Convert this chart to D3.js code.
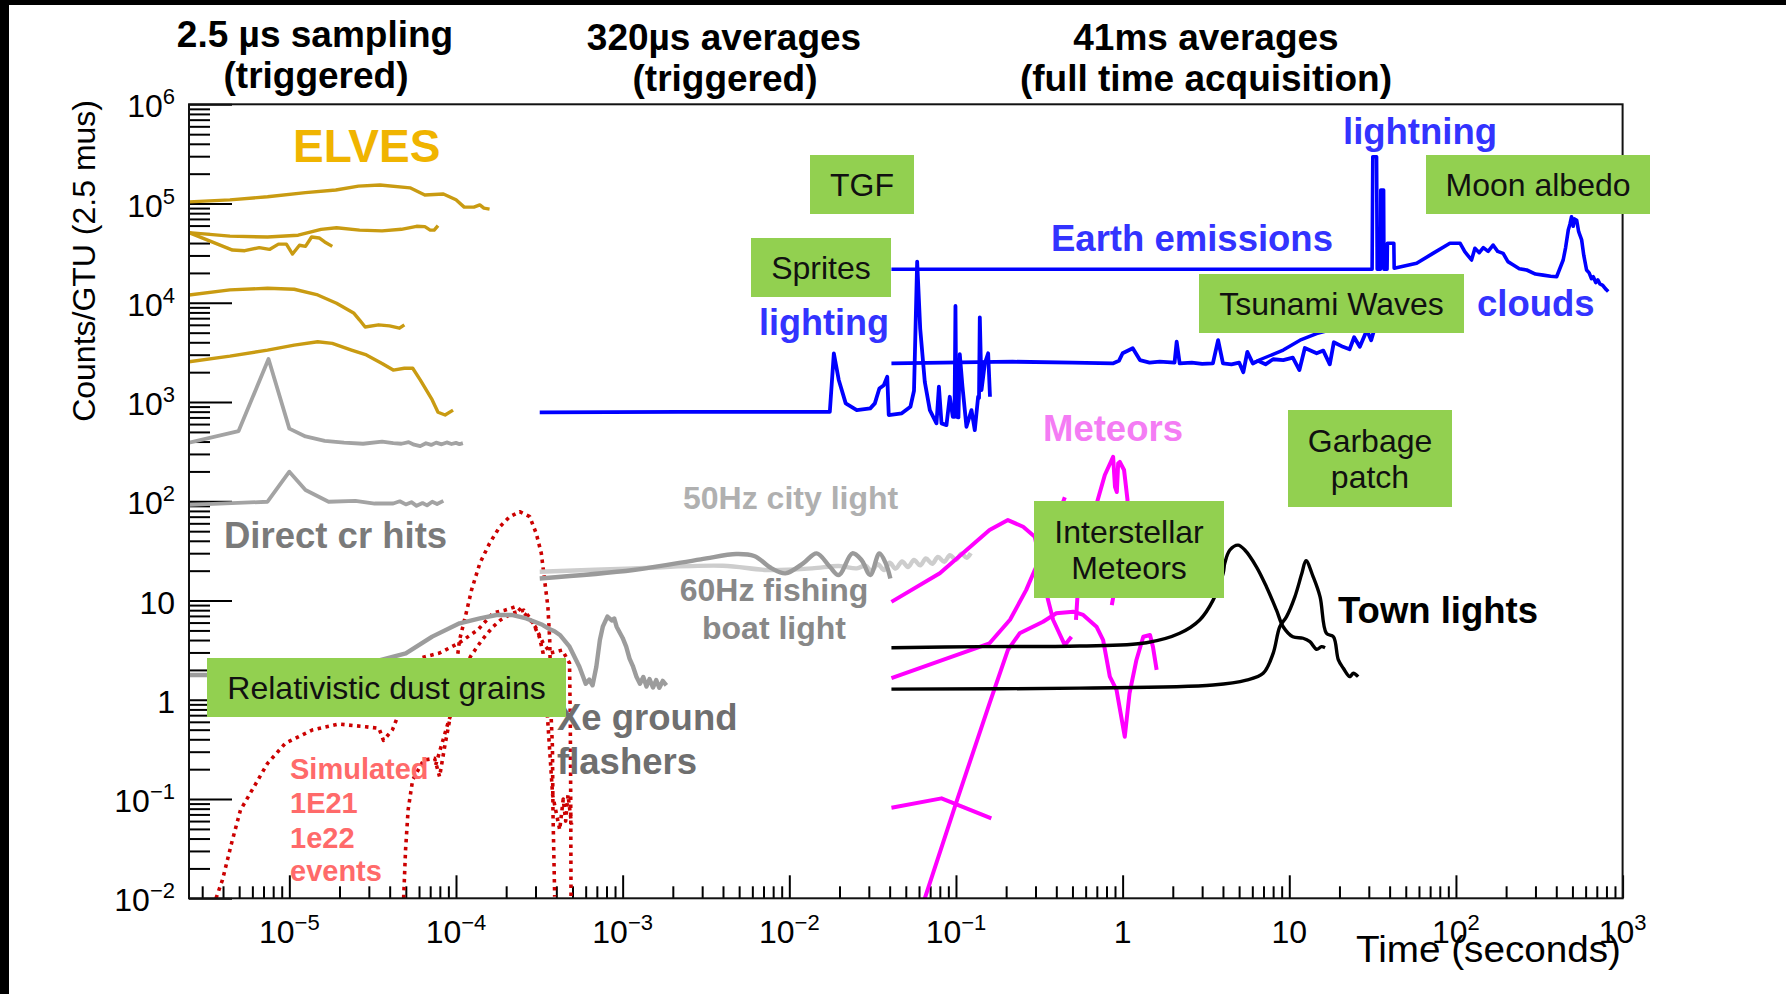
<!DOCTYPE html>
<html>
<head>
<meta charset="utf-8">
<script src="https://cdn.jsdelivr.net/npm/d3@7"></script>
<style>
  body { margin: 0; background: #fff; }
  svg { display: block; }
  text { font-family: "Liberation Sans", Arial, Helvetica, sans-serif; }
</style>
</head>
<body>
<svg id="chart" width="1786" height="994"></svg>
<script>
// ---------- data: [time (s), counts per GTU] ----------
const elves1 = [[2.5e-6,1.04e5],[4.4e-6,1.09e5],[7.4e-6,1.17e5],[1.25e-5,1.29e5],[1.9e-5,1.37e5],[2.6e-5,1.5e5],[3.5e-5,1.54e5],[5.3e-5,1.44e5],[6.5e-5,1.22e5],[8.4e-5,1.25e5],[1.0e-4,1.09e5],[1.12e-4,9.2e4],[1.28e-4,9.2e4],[1.39e-4,9.7e4],[1.47e-4,9.0e4],[1.59e-4,8.8e4]];
const elves2 = [[2.5e-6,5.1e4],[4.4e-6,4.7e4],[7.4e-6,4.6e4],[1.13e-5,4.8e4],[1.55e-5,5.5e4],[1.92e-5,5.7e4],[2.64e-5,5.4e4],[3.6e-5,5.3e4],[4.7e-5,5.5e4],[5.8e-5,5.9e4],[6.5e-5,5.85e4],[7.0e-5,5.4e4],[7.4e-5,5.4e4],[7.8e-5,6.0e4]];
const elves3 = [[2.5e-6,5.1e4],[4.56e-6,3.4e4],[5.4e-6,3.35e4],[6.6e-6,3.6e4],[7.6e-6,3.45e4],[8.6e-6,3.9e4],[9.6e-6,3.9e4],[1.045e-5,3.1e4],[1.15e-5,3.8e4],[1.25e-5,3.7e4],[1.36e-5,4.6e4],[1.51e-5,4.5e4],[1.63e-5,4.1e4],[1.81e-5,3.7e4]];
const elves4 = [[2.5e-6,1.2e4],[4.4e-6,1.35e4],[7.4e-6,1.4e4],[1.07e-5,1.37e4],[1.48e-5,1.2e4],[1.92e-5,9.9e3],[2.43e-5,7.9e3],[2.64e-5,6.7e3],[2.85e-5,5.7e3],[3.43e-5,6.0e3],[3.99e-5,5.85e3],[4.58e-5,5.55e3],[4.9e-5,6.0e3]];
const elves5 = [[2.5e-6,2.55e3],[4.4e-6,2.9e3],[7.4e-6,3.34e3],[1.07e-5,3.75e3],[1.48e-5,4.05e3],[1.81e-5,3.9e3],[2.36e-5,3.34e3],[2.9e-5,2.98e3],[3.6e-5,2.45e3],[4.2e-5,2.1e3],[4.9e-5,2.19e3],[5.5e-5,2.19e3],[6.1e-5,1.67e3],[7.2e-5,1.05e3],[7.8e-5,790],[8.6e-5,740],[9.6e-5,830]];

const crHitsHigh = [[2.5e-6,390],[4.96e-6,510],[7.5e-6,2.72e3],[1.0e-5,540],[1.25e-5,450],[1.63e-5,407],[2.13e-5,390],[2.77e-5,380],[3.6e-5,400],[4.2e-5,385],[4.7e-5,380],[5.2e-5,395],[5.6e-5,372],[6.1e-5,360],[6.6e-5,385],[7.1e-5,370],[7.6e-5,390],[8.2e-5,375],[8.8e-5,392],[9.4e-5,378],[1.0e-4,388],[1.05e-4,376],[1.1e-4,385]];
const crHitsLow = [[2.5e-6,92],[7.4e-6,99],[1.0e-5,199],[1.25e-5,130],[1.72e-5,99],[2.49e-5,101],[3.25e-5,95],[4.2e-5,95],[4.6e-5,100],[5.0e-5,93],[5.4e-5,98],[5.8e-5,90],[6.3e-5,96],[6.7e-5,91],[7.2e-5,99],[7.7e-5,94],[8.4e-5,101]];

const xeFlashers = [[2.5e-6,1.78],[3.2e-6,1.78],[2.3e-5,2.09],[5.0e-5,2.94],[7.2e-5,4.33],[1.05e-4,5.9],[1.39e-4,6.6],[1.75e-4,7.15],[2.19e-4,7.15],[2.64e-4,6.6],[3.3e-4,5.7],[3.6e-4,5.2],[3.9e-4,4.9],[4.2e-4,4.5],[4.8e-4,3.43],[5.5e-4,2.15],[5.8e-4,1.7],[6.0e-4,1.45],[6.3e-4,1.6],[6.6e-4,1.4],[6.95e-4,2.15],[7.3e-4,4.0],[7.6e-4,5.45],[8.1e-4,6.9],[8.6e-4,6.3],[8.9e-4,6.6],[9.2e-4,5.45],[1.0e-3,4.2],[1.05e-3,3.43],[1.1e-3,2.6],[1.15e-3,2.2],[1.21e-3,1.71],[1.27e-3,1.45],[1.33e-3,1.7],[1.39e-3,1.36],[1.45e-3,1.62],[1.52e-3,1.33],[1.59e-3,1.58],[1.66e-3,1.32],[1.74e-3,1.55],[1.83e-3,1.4]];

const simWide = [[3.63e-6,0.01],[3.97e-6,0.0153],[4.5e-6,0.0358],[5.09e-6,0.0775],[6.14e-6,0.133],[7.4e-6,0.229],[9.45e-6,0.364],[1.37e-5,0.496],[1.97e-5,0.57],[2.87e-5,0.535],[3.45e-5,0.515],[3.67e-5,0.39],[4.16e-5,0.5],[4.46e-5,0.675],[6.12e-5,2.64],[7.97e-5,2.96],[1.04e-4,3.73],[1.35e-4,5.05],[1.67e-4,7.5],[1.96e-4,8.0],[2.3e-4,8.7],[2.69e-4,6.9],[3.0e-4,5.4],[3.33e-4,3.73],[3.7e-4,2.96],[4.34e-4,3.17],[4.8e-4,2.34],[4.85e-4,0.63],[4.88e-4,0.098],[4.9e-4,0.01]];
const simPeak = [[4.85e-5,0.01],[4.98e-5,0.0306],[5.16e-5,0.0775],[5.49e-5,0.155],[6.39e-5,0.247],[7.44e-5,0.257],[7.97e-5,0.168],[8.55e-5,0.337],[9.16e-5,0.625],[1.05e-4,4.0],[1.15e-4,7.43],[1.24e-4,12.8],[1.39e-4,23.7],[1.59e-4,37.7],[1.83e-4,55.4],[2.1e-4,69.9],[2.41e-4,78.5],[2.77e-4,69.9],[3.03e-4,47.5],[3.25e-4,29.9],[3.4e-4,16.1],[3.56e-4,8.67],[3.65e-4,4.0],[3.73e-4,0.625],[3.79e-4,0.337],[3.82e-4,0.0718],[3.91e-4,0.0104]];
const simMid = [[7.55e-5,0.22],[9.0e-5,0.6],[1.22e-4,2.72],[1.43e-4,4.0],[1.67e-4,5.45],[1.85e-4,6.37],[2.19e-4,7.48],[2.55e-4,8.0],[2.84e-4,6.37],[3.16e-4,4.33],[3.33e-4,2.96],[3.55e-4,0.625],[3.8e-4,0.11],[4.19e-4,0.049],[4.4e-4,0.1],[4.55e-4,0.06],[4.7e-4,0.11],[4.94e-4,0.055]];

const lightning320 = [[3.18e-4,787],[2.16e-3,798],[1.75e-2,798],[1.85e-2,3.09e3],[1.98e-2,1.67e3],[2.18e-2,970],[2.54e-2,830],[3.06e-2,864],[3.26e-2,970],[3.47e-2,1.37e3],[3.69e-2,1.48e3],[3.87e-2,1.8e3],[3.95e-2,740],[4.73e-2,770],[5.33e-2,897],[5.6e-2,1.3e3],[5.85e-2,2.6e4],[6.1e-2,5.5e3],[6.5e-2,1.6e3],[6.97e-2,830],[7.64e-2,610],[7.9e-2,1.43e3],[8.19e-2,610],[8.77e-2,586],[9.18e-2,1.13e3],[9.57e-2,711],[9.8e-2,711],[9.93e-2,9.3e3],[0.1005,711],[0.1035,700],[0.1054,3.04e3],[0.1094,1.43e3],[0.1156,564],[0.1239,830],[0.1297,522],[0.1358,1.13e3],[0.1375,1.1e3],[0.139,7.14e3],[0.1423,1.32e3],[0.149,2.45e3],[0.156,3.1e3],[0.16,1.13e3]];
const earthEmissions = [[4.1e-2,2.18e4],[31.4,2.18e4],[31.7,2.96e5],[33.4,2.96e5],[33.7,2.18e4],[35.2,2.18e4],[35.4,1.37e5],[36.8,1.37e5],[37.0,2.18e4],[38.6,2.18e4],[38.8,3.98e4],[42.4,3.98e4],[42.6,2.23e4],[58.1,2.5e4],[72.8,3.15e4],[92,3.98e4],[106,3.98e4],[113,3.27e4],[124,2.7e4],[130,3.54e4],[138,3.2e4],[146,3.6e4],[156,3.3e4],[167,3.82e4],[178,3.3e4],[192,3.15e4],[205,2.6e4],[221,2.4e4],[240,2.2e4],[266,2.14e4],[300,1.95e4],[334,1.9e4],[370,1.85e4],[402,1.83e4],[440,2.7e4],[455,3.6e4],[472,5.4e4],[483,6.2e4],[494,7.36e4],[505,5.9e4],[515,7.0e4],[530,6.8e4],[545,5.2e4],[568,4.3e4],[585,3.0e4],[608,2.14e4],[630,2.0e4],[650,1.75e4],[667,1.83e4],[690,1.6e4],[710,1.7e4],[731,1.55e4],[760,1.5e4],[790,1.38e4],[820,1.3e4]];
const lightning41 = [[4.1e-2,2.45e3],[0.219,2.55e3],[0.5,2.5e3],[0.873,2.45e3],[0.95,2.6e3],[1.0,3.1e3],[1.15,3.48e3],[1.27,2.65e3],[1.45,2.5e3],[1.67,2.55e3],[2.05,2.5e3],[2.11,4.05e3],[2.2,2.45e3],[2.6,2.5e3],[3.0,2.42e3],[3.48,2.45e3],[3.74,4.2e3],[4.0,2.45e3],[4.5,2.4e3],[5.0,2.5e3],[5.3,2.0e3],[5.6,3.2e3],[6.04,2.45e3],[6.5,2.6e3],[7.2,2.4e3],[8.0,2.7e3],[9.2,2.65e3],[10.5,2.8e3],[11.5,2.1e3],[12.4,3.5e3],[14.6,3.1e3],[16,3.3e3],[17.5,2.4e3],[18.5,4.0e3],[21,3.6e3],[23,3.4e3],[24.5,4.5e3],[26.5,3.6e3],[29.2,5.3e3],[31,4.2e3],[33,6.0e3],[36.5,6.4e3]];
const lightning41b = [[6.0,2.45e3],[6.6,2.65e3],[9.2,3.34e3],[11.6,4.2e3],[14.6,4.9e3],[17.5,5.3e3],[21,5.8e3]];

const cityLight50 = [[3.18e-4,19.5],[1.16e-3,21.1],[3.98e-3,22.4],[7.41e-3,20.3],[1.37e-2,21.1],[1.98e-2,22.3],[2.54e-2,21.1],[2.87e-2,22.5],[3.1e-2,19.8],[3.4e-2,23.2],[3.7e-2,20.3],[4.0e-2,24],[4.35e-2,21],[4.75e-2,24.8],[5.15e-2,21.8],[5.6e-2,25.6],[6.1e-2,22.6],[6.6e-2,26.5],[7.2e-2,23.5],[7.8e-2,27.5],[8.5e-2,24.6],[9.2e-2,28.6],[0.1,25.8],[0.108,29.6],[0.116,27],[0.1227,30]];
const boatLight60 = [[3.18e-4,16.7],[1.16e-3,20.3],[2.94e-3,26.0],[4.81e-3,29.4],[6.15e-3,28.1],[7.84e-3,21.1],[9.48e-3,18.8],[1.21e-2,23.7],[1.46e-2,29.9],[1.75e-2,21.9],[1.98e-2,18.1],[2.39e-2,29.9],[2.71e-2,25.6],[3.06e-2,18.1],[3.47e-2,29.9],[3.79e-2,23.7],[4.04e-2,16.7]];

const meteorA = [[4.1e-2,9.7],[8.0e-2,18.8],[0.159,51.3],[0.205,64.7],[0.253,55.4],[0.297,44],[0.327,20.3],[0.357,10.1],[0.383,6.37],[0.45,3.56],[0.493,4.32]];
const meteorB = [[4.1e-2,1.65],[0.159,3.71],[0.211,6.4],[0.264,12.8],[0.297,20.3],[0.37,45],[0.45,110]];
const meteorC = [[0.525,6.37],[0.553,25.6],[0.681,81.7],[0.782,184],[0.877,281],[0.9,140],[0.923,124],[0.94,240],[0.962,249],[1.02,207],[1.07,103],[0.962,25.6],[0.861,9.0]];
const meteorD = [[4.1e-2,0.0817],[8.19e-2,0.1016],[0.163,0.064]];
const meteorE = [[6.5e-2,0.01],[0.1,0.0905],[0.159,0.922],[0.205,3.18],[0.241,4.68],[0.333,6.12],[0.4,7.44],[0.505,7.73],[0.58,7.16],[0.697,5.46],[0.764,4.0],[0.838,1.71],[0.919,1.26],[1.03,0.425],[1.1,1.16],[1.21,2.52],[1.33,4.32],[1.46,4.5],[1.52,3.43],[1.6,2.0]];

const townA = [[4.1e-2,3.35],[0.139,3.43],[0.553,3.48],[1.39,3.76],[2.2,4.68],[2.9,6.37],[3.49,10.1],[4.01,18.8],[4.1,23.7],[4.4,32.3],[4.93,36.2],[5.41,32.3],[6.35,21.9],[7.29,13.8],[8.38,8.0],[9.19,5.45],[10.5,4.32],[12.1,4.17],[13.3,3.85],[14.6,3.23],[15.6,3.43],[16.4,3.35]];
const townB = [[4.1e-2,1.28],[0.553,1.31],[3.49,1.41],[5.53,1.58],[6.97,1.85],[8.0,2.94],[8.77,5.45],[9.63,6.89],[10.8,10.9],[11.9,18.8],[12.6,25.2],[13.9,17.4],[15.3,10.9],[16.7,4.68],[18.4,4.32],[19.7,2.52],[21.1,2.08],[23.1,1.71],[24.2,1.85],[25.9,1.71]];

// ---------- axes: ticks and labels ----------
const xMajorTicks = [1e-5,1e-4,1e-3,1e-2,1e-1,1,10,100,1000];
const xTickLabels = [["10","\u22125"],["10","\u22124"],["10","\u22123"],["10","\u22122"],["10","\u22121"],["1",""],["10",""],["10","2"],["10","3"]];
const yMajorTicks = [1e-2,1e-1,1,10,100,1e3,1e4,1e5,1e6];
const yTickLabels = [["10","\u22122"],["10","\u22121"],["1",""],["10",""],["10","2"],["10","3"],["10","4"],["10","5"],["10","6"]];
const xDomain = [2.5e-6, 1e3];
const yDomain = [1e-2, 1e6];

// ---------- layout ----------
const svg = d3.select("#chart");
const P = { left: 189, right: 1622.6, top: 104.3, bottom: 898.3 };
const x = d3.scaleLog().domain(xDomain).range([P.left, P.right]);
const y = d3.scaleLog().domain(yDomain).range([P.bottom, P.top]);

svg.append("rect").attr("width", 1786).attr("height", 994).attr("fill", "#fff");
svg.append("rect").attr("x", 0).attr("y", 0).attr("width", 1786).attr("height", 5).attr("fill", "#000");
svg.append("rect").attr("x", 0).attr("y", 0).attr("width", 9).attr("height", 994).attr("fill", "#000");

svg.append("defs").append("clipPath").attr("id", "plotClip")
  .append("rect").attr("x", P.left).attr("y", P.top)
  .attr("width", P.right - P.left).attr("height", P.bottom - P.top);

// minor tick values (2..9 within each decade)
function minorTicks(domain) {
  const out = [];
  const lo = Math.floor(Math.log10(domain[0])), hi = Math.ceil(Math.log10(domain[1]));
  for (let k = lo; k < hi; k++) for (let m = 2; m <= 9; m++) {
    const v = m * Math.pow(10, k);
    if (v >= domain[0] * 0.999 && v <= domain[1] * 1.001) out.push(v);
  }
  return out;
}

function tickAxis(axis, values, size, transform) {
  const g = svg.append("g").attr("transform", transform)
    .call(axis.tickValues(values).tickSize(size).tickFormat(""));
  g.select(".domain").remove();
  g.selectAll(".tick line").attr("stroke", "#000").attr("stroke-width", 2);
}
tickAxis(d3.axisTop(x), minorTicks(xDomain), 12, `translate(0,${P.bottom})`);
tickAxis(d3.axisTop(x), xMajorTicks, 23, `translate(0,${P.bottom})`);
tickAxis(d3.axisRight(y), minorTicks(yDomain), 21, `translate(${P.left},0)`);
tickAxis(d3.axisRight(y), yMajorTicks, 43, `translate(${P.left},0)`);

// ---------- curves ----------
const clipG = svg.append("g").attr("clip-path", "url(#plotClip)");
const lineLin = d3.line().x(d => x(d[0])).y(d => y(d[1]));
const lineSmooth = d3.line().x(d => x(d[0])).y(d => y(d[1])).curve(d3.curveCatmullRom.alpha(0.5));

const series = [
  { data: elves1, color: "#c99b12", w: 3.4 },
  { data: elves2, color: "#c99b12", w: 3.4 },
  { data: elves3, color: "#c99b12", w: 3.4 },
  { data: elves4, color: "#c99b12", w: 3.4 },
  { data: elves5, color: "#c99b12", w: 3.4 },
  { data: crHitsHigh, color: "#a3a3a3", w: 3.8 },
  { data: crHitsLow, color: "#a3a3a3", w: 3.8 },
  { data: simWide, color: "#cc0000", w: 3.6, dash: "3.5,4.5" },
  { data: simPeak, color: "#cc0000", w: 3.6, dash: "3.5,4.5" },
  { data: simMid, color: "#cc0000", w: 3.6, dash: "3.5,4.5" },
  { data: xeFlashers, color: "#9c9c9c", w: 4.4 },
  { data: cityLight50, color: "#cdcdcd", w: 4.4, smooth: true },
  { data: boatLight60, color: "#9a9a9a", w: 4.4, smooth: true },
  { data: lightning320, color: "#0000ff", w: 3.8 },
  { data: earthEmissions, color: "#0000ff", w: 3.6 },
  { data: lightning41, color: "#0000ff", w: 3.8 },
  { data: lightning41b, color: "#0000ff", w: 3.4 },
  { data: meteorA, color: "#ff00ff", w: 4 },
  { data: meteorB, color: "#ff00ff", w: 4 },
  { data: meteorC, color: "#ff00ff", w: 4 },
  { data: meteorD, color: "#ff00ff", w: 4 },
  { data: meteorE, color: "#ff00ff", w: 4 },
  { data: townA, color: "#000000", w: 3.4, smooth: true },
  { data: townB, color: "#000000", w: 3.4, smooth: true }
];

clipG.selectAll("path.series").data(series).join("path")
  .attr("class", "series")
  .attr("d", s => (s.smooth ? lineSmooth : lineLin)(s.data))
  .attr("fill", "none")
  .attr("stroke", s => s.color)
  .attr("stroke-width", s => s.w)
  .attr("stroke-linejoin", "round")
  .attr("stroke-dasharray", s => s.dash || null);

// plot frame
svg.append("rect").attr("x", P.left).attr("y", P.top)
  .attr("width", P.right - P.left).attr("height", P.bottom - P.top)
  .attr("fill", "none").attr("stroke", "#111").attr("stroke-width", 2);

// ---------- tick labels ----------
function powerLabel(g, lab, anchor) {
  const t = g.append("text").attr("text-anchor", anchor).attr("font-size", 32).attr("fill", "#000");
  t.append("tspan").text(lab[0]);
  if (lab[1]) t.append("tspan").attr("font-size", 22).attr("dy", -13).text(lab[1]);
  return t;
}
xMajorTicks.forEach((v, i) => {
  const g = svg.append("g").attr("transform", `translate(${x(v)},943)`);
  powerLabel(g, xTickLabels[i], "middle");
});
yMajorTicks.forEach((v, i) => {
  const g = svg.append("g").attr("transform", `translate(175,${y(v) + 13})`);
  powerLabel(g, yTickLabels[i], "end");
});

svg.append("text").attr("x", 1621).attr("y", 962).attr("text-anchor", "end")
  .attr("font-size", 36).attr("textLength", 265).attr("lengthAdjust", "spacingAndGlyphs")
  .text("Time (seconds)");
svg.append("text").attr("transform", "translate(95,100) rotate(-90)")
  .attr("text-anchor", "end").attr("font-size", 32).text("Counts/GTU (2.5 mus)");

// ---------- section titles ----------
const titles = [
  { t: "2.5 \u00b5s sampling", x: 315, y: 47 },
  { t: "(triggered)", x: 316, y: 88 },
  { t: "320\u00b5s averages", x: 724, y: 50 },
  { t: "(triggered)", x: 725, y: 91 },
  { t: "41ms averages", x: 1206, y: 50 },
  { t: "(full time acquisition)", x: 1206, y: 91 }
];
svg.selectAll("text.title").data(titles).join("text").attr("class", "title")
  .attr("x", d => d.x).attr("y", d => d.y).attr("text-anchor", "middle")
  .attr("font-size", 37).attr("font-weight", "bold").attr("fill", "#000").text(d => d.t);

// ---------- annotations ----------
const notes = [
  { t: "ELVES", x: 293, y: 162, s: 46, c: "#f0b400" },
  { t: "Direct cr hits", x: 224, y: 548, s: 36.5, c: "#7a7a7a" },
  { t: "Simulated", x: 290, y: 779, s: 29, c: "#ff6a6a" },
  { t: "1E21", x: 290, y: 813, s: 29, c: "#ff6a6a" },
  { t: "1e22", x: 290, y: 848, s: 29, c: "#ff6a6a" },
  { t: "events", x: 290, y: 881, s: 29, c: "#ff6a6a" },
  { t: "Xe ground", x: 557, y: 730, s: 36.5, c: "#6f6f6f" },
  { t: "flashers", x: 557, y: 774, s: 36.5, c: "#6f6f6f" },
  { t: "50Hz city light", x: 683, y: 509, s: 32, c: "#b0b0b0" },
  { t: "60Hz fishing", x: 774, y: 601, s: 32, c: "#888888", a: "middle" },
  { t: "boat light", x: 774, y: 639, s: 32, c: "#888888", a: "middle" },
  { t: "lighting", x: 759, y: 335, s: 36, c: "#3333ff" },
  { t: "Earth emissions", x: 1051, y: 251, s: 36.5, c: "#3333ff" },
  { t: "lightning", x: 1343, y: 144, s: 36.5, c: "#3333ff" },
  { t: "clouds", x: 1477, y: 316, s: 36.5, c: "#3333ff" },
  { t: "Meteors", x: 1043, y: 441, s: 36.5, c: "#f47cf4" },
  { t: "Town lights", x: 1338, y: 623, s: 36.5, c: "#000000" }
];
svg.selectAll("text.note").data(notes).join("text").attr("class", "note")
  .attr("x", d => d.x).attr("y", d => d.y).attr("text-anchor", d => d.a || "start")
  .attr("font-size", d => d.s).attr("font-weight", "bold").attr("fill", d => d.c).text(d => d.t);

// green category boxes
const boxes = [
  { x0: 810, y0: 155, x1: 914, y1: 214, lines: ["TGF"] },
  { x0: 751, y0: 238, x1: 891, y1: 297, lines: ["Sprites"] },
  { x0: 1426, y0: 155, x1: 1650, y1: 214, lines: ["Moon albedo"] },
  { x0: 1199, y0: 274, x1: 1464, y1: 333, lines: ["Tsunami Waves"] },
  { x0: 1288, y0: 410, x1: 1452, y1: 507, lines: ["Garbage", "patch"] },
  { x0: 1034, y0: 501, x1: 1224, y1: 598, lines: ["Interstellar", "Meteors"] },
  { x0: 207, y0: 658, x1: 566, y1: 717, lines: ["Relativistic dust grains"] }
];
const bg = svg.selectAll("g.box").data(boxes).join("g").attr("class", "box");
bg.append("rect").attr("x", d => d.x0).attr("y", d => d.y0)
  .attr("width", d => d.x1 - d.x0).attr("height", d => d.y1 - d.y0).attr("fill", "#92d050");
bg.each(function (d) {
  const cx = (d.x0 + d.x1) / 2, cy = (d.y0 + d.y1) / 2;
  const n = d.lines.length, lh = 36;
  d3.select(this).selectAll("text").data(d.lines).join("text")
    .attr("x", cx).attr("y", (l, i) => cy + (i - (n - 1) / 2) * lh + 11)
    .attr("text-anchor", "middle").attr("font-size", 32).attr("fill", "#111").text(l => l);
});
</script>
</body>
</html>
